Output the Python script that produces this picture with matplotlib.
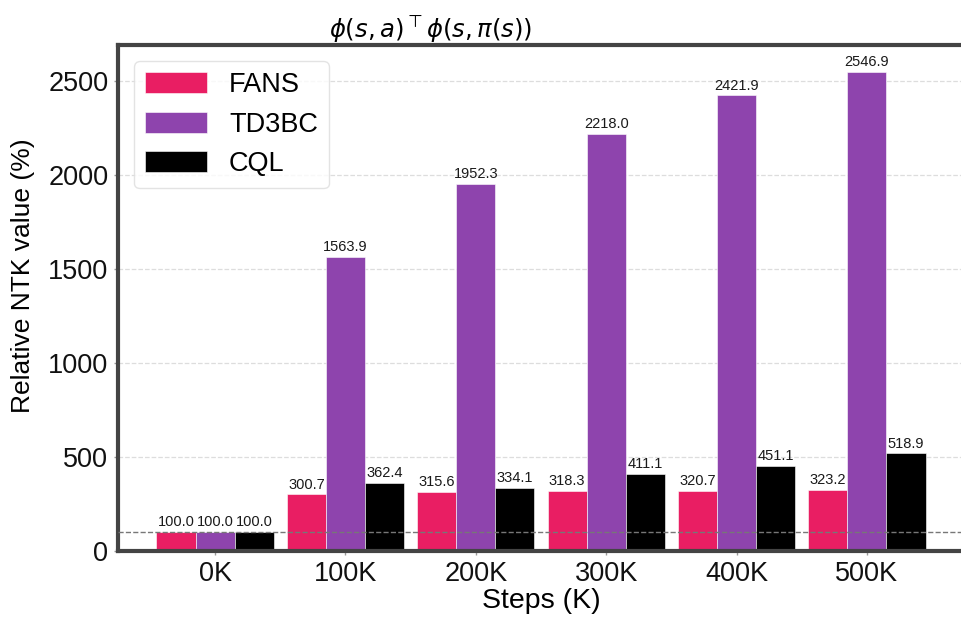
import numpy as np
import matplotlib
matplotlib.use("Agg")
import matplotlib.pyplot as plt

plt.rcParams['font.family'] = ['Liberation Sans', 'DejaVu Sans']
plt.rcParams['mathtext.fontset'] = 'dejavusans'

steps = ['0K', '100K', '200K', '300K', '400K', '500K']
fans = [100.0, 300.7, 315.6, 318.3, 320.7, 323.2]
td3bc = [100.0, 1563.9, 1952.3, 2218.0, 2421.9, 2546.9]
cql = [100.0, 362.4, 334.1, 411.1, 451.1, 518.9]

series = [('FANS', fans, '#E91E63'),
          ('TD3BC', td3bc, '#8E44AD'),
          ('CQL', cql, '#000000')]

W, H = 962, 620
fig = plt.figure(figsize=(W / 100, H / 100), dpi=100)
ax = fig.add_axes([118 / W, 1 - 551 / H, (964 - 118) / W, (551 - 45) / H])

x = np.arange(len(steps))
width = 0.3
for i, (name, vals, color) in enumerate(series):
    pos = x + (i - 1) * width
    bars = ax.bar(pos, vals, width, color=color, label=name,
                  edgecolor='white', linewidth=0.4, zorder=2)
    for b, v in zip(bars, vals):
        ax.annotate(f'{v:.1f}', (b.get_x() + b.get_width() / 2, v),
                    xytext=(0, 2), textcoords='offset points',
                    ha='center', va='bottom', fontsize=10.5, color='#1a1a1a')

ax.axhline(100, color='#777777', linestyle='--', linewidth=1.0, zorder=3)

ax.set_xlim(-0.745, 5.745)
ax.set_ylim(0, 2690)
ax.set_xticks(x)
ax.set_xticklabels(steps)
ax.set_yticks([0, 500, 1000, 1500, 2000, 2500])
ax.tick_params(axis='both', labelsize=19.5, length=3, width=1, color='#999999',
               labelcolor='#111111', pad=4)

ax.yaxis.grid(True, linestyle='--', color='#dddddd', linewidth=0.9, zorder=0)
ax.set_axisbelow(True)

for s in ax.spines.values():
    s.set_color('#444444')
    s.set_linewidth(3)

ax.set_xlabel('Steps (K)', fontsize=20.5, labelpad=1)
ax.set_ylabel('Relative NTK value (%)', fontsize=19)
ax.yaxis.set_label_coords(-0.098, 0.545)

ax.set_title(r'$\phi(s,a)^{\top}\phi(s,\pi(s))$', fontsize=17.5, x=0.369, pad=0.5)

leg = ax.legend(loc='upper left', fontsize=19.5, handlelength=2.3, handleheight=0.8,
                frameon=True, fancybox=True, borderaxespad=0.6)
leg.get_frame().set_edgecolor('#dddddd')

fig.savefig('out.png', dpi=100)
